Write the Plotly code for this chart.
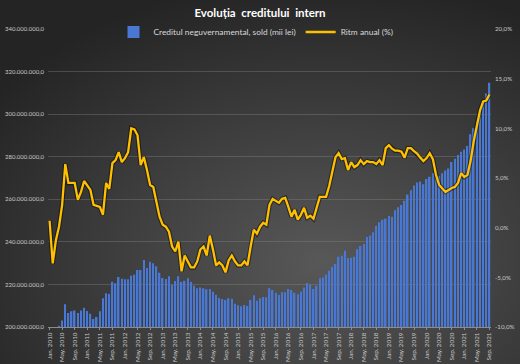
import base64
import plotly.graph_objects as go

# ---- data ----
month_names = ["Jan.", "Feb.", "Mar.", "Apr.", "May.", "Jun.", "Jul.", "Aug.", "Sep.", "Oct.", "Nov.", "Dec."]
years = list(range(2010, 2022))
months = [f"{m} {y}" for y in years for m in month_names][:141]  # Jan. 2010 .. Sep. 2021

# Creditul neguvernamental, sold (milioane x mii lei)
credit = [198.6, 199.0, 199.6, 200.6, 203.0, 210.7, 206.6, 207.4, 207.8, 206.6,
          207.8, 209.0, 207.5, 206.2, 203.8, 204.7, 207.4, 213.5, 215.8, 215.5,
          221.3, 220.6, 223.5, 222.7, 222.4, 222.4, 224.1, 224.6, 226.8, 226.8,
          231.5, 227.7, 230.7, 229.9, 228.5, 225.5, 223.0, 222.5, 223.9, 219.9,
          221.6, 223.9, 221.1, 221.7, 222.9, 221.1, 219.4, 218.2, 218.6, 218.2,
          217.7, 217.8, 216.6, 215.2, 213.6, 213.1, 212.7, 213.5, 213.3, 210.9,
          210.2, 209.7, 210.3, 209.9, 212.7, 214.9, 212.3, 213.5, 214.1, 214.0,
          218.2, 217.4, 216.1, 215.0, 216.3, 216.3, 217.8, 217.4, 216.1, 215.4,
          216.6, 218.5, 220.7, 220.0, 217.8, 219.4, 222.9, 223.2, 224.7, 226.4,
          228.2, 229.6, 233.0, 233.5, 235.8, 232.4, 232.5, 233.0, 236.5, 238.0,
          239.0, 242.3, 243.0, 244.5, 247.5, 249.2, 250.4, 250.8, 252.1, 251.8,
          254.8, 256.3, 257.3, 259.3, 262.3, 264.3, 266.5, 267.9, 268.4, 267.1,
          269.5, 270.6, 272.2, 269.5, 270.8, 272.2, 273.5, 274.5, 277.5, 279.0,
          280.8, 282.3, 283.4, 285.0, 290.6, 293.4, 296.4, 300.3, 305.3, 309.7,
          314.7]

# Ritm anual (%)
ritm = [0.7, -3.6, -1.3, 0.1, 2.3, 6.4, 4.5, 4.5, 4.5, 2.8,
        3.6, 4.7, 4.3, 3.8, 2.3, 2.2, 2.1, 1.3, 4.5, 3.9,
        6.5, 6.8, 7.6, 6.6, 7.0, 7.6, 10.0, 9.9, 9.3, 6.3,
        7.1, 5.8, 4.3, 4.1, 2.6, 1.1, 0.3, 0.1, -0.4, -1.9,
        -2.4, -1.4, -4.4, -2.8, -3.4, -4.0, -4.0, -3.4, -2.2, -1.9,
        -2.8, -0.8, -2.2, -3.8, -3.5, -3.8, -4.5, -3.3, -2.8, -3.4,
        -3.8, -3.8, -3.4, -3.8, -1.9, -0.2, -0.6, 0.1, 0.5, 0.3,
        2.3, 2.9, 2.7, 2.5, 2.9, 3.0, 2.1, 1.1, 1.8, 0.8,
        1.3, 2.0, 1.0, 1.2, 0.9, 2.0, 3.1, 3.1, 3.1, 4.2,
        5.8, 7.1, 7.5, 6.9, 7.0, 5.8, 6.6, 6.1, 6.3, 6.8,
        6.4, 6.7, 6.6, 6.6, 6.4, 6.8, 6.3, 8.0, 8.3, 7.95,
        7.75, 7.75, 7.65, 7.05, 8.0, 8.0, 7.7, 7.45, 7.05, 6.7,
        7.0, 7.5, 6.9, 5.3, 4.3, 4.0, 3.6, 3.8, 4.0, 4.1,
        4.5, 5.5, 5.1, 5.3, 6.7, 8.7, 10.4, 11.8, 12.7, 12.8,
        13.4]

left_ticks = [200, 220, 240, 260, 280, 300, 320, 340]
right_ticks = [-10, -5, 0, 5, 10, 15, 20]

# ---- figure ----
FONT = "Lato, 'Open Sans', sans-serif"
W, H = 520, 364
ML, MR, MT, MB = 48, 29, 29, 37
PW, PH = W - ML - MR, H - MT - MB

svg = (f'<svg xmlns="http://www.w3.org/2000/svg" width="{W}" height="{H}">'
       '<defs><radialGradient id="g" cx="0.62" cy="0.72" r="0.78">'
       '<stop offset="0" stop-color="#585858"/><stop offset="1" stop-color="#242424"/>'
       '</radialGradient></defs>'
       f'<rect width="{W}" height="{H}" fill="url(#g)"/></svg>')
bg_src = "data:image/svg+xml;base64," + base64.b64encode(svg.encode()).decode()

def fmt_mil(v):
    s = f"{int(v * 1e6):,}".replace(",", ".")
    return s + ",0"

fig = go.Figure()
fig.add_trace(go.Bar(
    x=months, y=[v * 1e6 for v in credit],
    name="Creditul neguvernamental, sold (mii lei)",
    marker=dict(color="#4878d4", line=dict(width=0)),
    yaxis="y",
))
fig.add_trace(go.Scatter(
    x=months, y=ritm, yaxis="y2", mode="lines",
    line=dict(color="rgba(0,0,0,0.45)", width=4.5),
    showlegend=False, hoverinfo="skip",
))
fig.add_trace(go.Scatter(
    x=months, y=ritm, yaxis="y2", mode="lines",
    name="Ritm anual (%)",
    line=dict(color="#ffc000", width=2.3),
))

fig.update_layout(
    width=W, height=H,
    margin=dict(l=ML, r=MR, t=MT, b=MB, autoexpand=False),
    paper_bgcolor="#333333",
    plot_bgcolor="rgba(0,0,0,0)",
    font=dict(family=FONT, color="#d0d0d0", size=7),
    bargap=0.52,
    title=dict(text="<b>Evoluția  creditului  intern</b>", x=0.5, xanchor="center",
               y=1 - 13 / H, yanchor="middle",
               font=dict(family=FONT, size=11.5, color="#ffffff")),
    legend=dict(orientation="h", x=(256 - ML) / PW, xanchor="center",
                y=1 - 3 / PH, yanchor="middle",
                font=dict(family=FONT, size=8.4, color="#d9d9d9"),
                bgcolor="rgba(0,0,0,0)", itemwidth=30, tracegroupgap=0),
    xaxis=dict(
        type="category", automargin=False,
        tickmode="array", tickvals=months[::4], ticktext=months[::4],
        tickangle=-90, tickfont=dict(size=6.3, color="#c8c8c8"),
        showgrid=False, showline=True, linecolor="#8c8c8c", linewidth=1,
        ticks="outside", ticklen=2, tickcolor="#8c8c8c",
        range=[-0.5, len(months) - 0.5],
    ),
    yaxis=dict(
        range=[200e6, 340e6], automargin=False,
        tickmode="array", tickvals=[v * 1e6 for v in left_ticks],
        ticktext=[fmt_mil(v) for v in left_ticks],
        tickfont=dict(size=6, color="#c8c8c8"),
        showgrid=True, gridcolor="rgba(140,140,140,0.35)", gridwidth=1,
        zeroline=False, showline=False, ticks="", ticklabelstandoff=3,
    ),
    yaxis2=dict(
        range=[-10, 20], overlaying="y", side="right", automargin=False,
        tickmode="array", tickvals=right_ticks,
        ticktext=[f"{v},0%" for v in right_ticks],
        tickfont=dict(size=6.2, color="#c8c8c8"),
        showgrid=False, zeroline=False, showline=False, ticks="", ticklabelstandoff=3,
    ),
    images=[dict(source=bg_src, xref="paper", yref="paper",
                 x=-ML / PW, y=1 + MT / PH, sizex=W / PW, sizey=H / PH,
                 xanchor="left", yanchor="top", sizing="stretch", layer="below")],
    showlegend=True,
)

fig.write_html("out.html", config={"displayModeBar": False},
               post_script="document.body.style.margin='0';document.body.style.overflow='hidden';")
